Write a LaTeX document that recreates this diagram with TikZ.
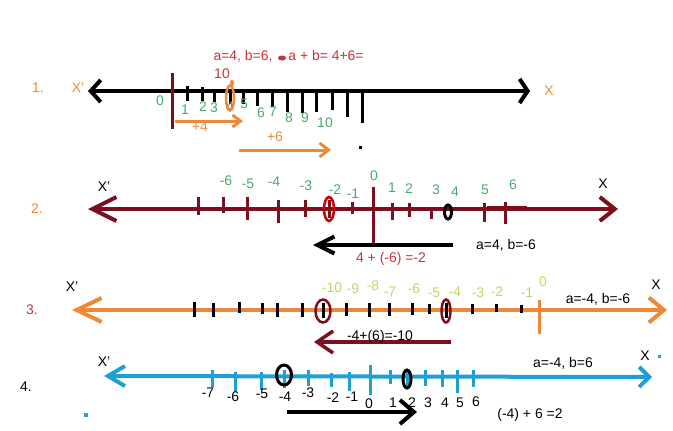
\documentclass[tikz,border=0pt]{standalone}
\usepackage{fontspec}
\setmainfont{Liberation Sans}
\usetikzlibrary{arrows.meta,shapes.geometric}
\definecolor{orng}{RGB}{237,137,55}
\definecolor{grn}{RGB}{72,170,105}
\definecolor{dred}{RGB}{125,14,30}
\definecolor{rtxt}{RGB}{200,50,60}
\definecolor{ygrn}{RGB}{190,215,100}
\definecolor{blu}{RGB}{30,160,215}
\tikzset{
  lbl/.style={font=\fontsize{14}{16}\selectfont, inner sep=0pt},
  axis/.style={line width=4bp},
  tick/.style={line width=3bp},
  ring/.style={draw, ellipse, inner sep=0pt, line width=2.5bp},
}
\begin{document}
\begin{tikzpicture}[x=1bp,y=-1bp]
\useasboundingbox (0,0) rectangle (673,430);
% ---------- line 1 ----------
\coordinate (a1l) at (88,91); \coordinate (a1r) at (530,91);
\draw[axis, black, {Straight Barb[length=10bp,width=22bp]}-{Straight Barb[length=8bp,width=24bp]}] (a1l) -- (a1r);
\draw[line width=3bp, dred] (172,73) -- (172,129);
\foreach \x/\ya/\yb in {187/86/101,202/87/101,214/91/102,230/91/104,243/91/104,257/91/106,272/91/107,287/91/112,302/91/113,316/91/112,332/91/110,347/91/117,362/91/123}
  \draw[tick, black] (\x,\ya) -- (\x,\yb);
\foreach \t/\x/\y [count=\k] in {0/160/101,1/185/110,2/203/107,3/214/108,4/230/107,5/244/104,6/261/113,7/273/112,8/289/118,9/305/118,10/325/123}
  \node[lbl, grn] (o\k) at (\x,\y) {\t};
\node[ring, orng, minimum width=8bp, minimum height=25bp] (e1) at (230,98) {};
\node[fill=orng, ellipse, inner sep=0pt, minimum width=4bp, minimum height=7bp] (d1) at (232,83) {};
\node[lbl, rtxt] (ten) at (222,74) {10};
\node[lbl, rtxt] (t1a) at (243,56) {a=4, b=6,};
\node[fill=rtxt, ellipse, inner sep=0pt, minimum width=8bp, minimum height=5bp] (d2) at (282,58) {};
\node[lbl, rtxt] (t1b) at (326,56) {a + b= 4+6=};
\node[lbl, orng] (n1) at (38,88) {1.};
\node[lbl, orng] (x1l) at (78,88) {X'};
\node[lbl, orng] (x1r) at (549,91) {X};
\coordinate (p4s) at (175,121); \coordinate (p4e) at (243,121);
\draw[line width=3bp, orng, -{Straight Barb[length=8bp,width=12bp]}] (p4s) -- (p4e);
\node[lbl, orng] (p4) at (200,127) {+4};
\coordinate (p6s) at (239,150); \coordinate (p6e) at (331,150);
\draw[line width=3bp, orng, -{Straight Barb[length=9bp,width=14bp]}] (p6s) -- (p6e);
\node[lbl, orng] (p6) at (275,137) {+6};
\fill[black] (359,146) rectangle (362,149);
% ---------- line 2 ----------
\coordinate (a2l) at (88,209); \coordinate (a2r) at (618,209);
\draw[axis, dred, {Straight Barb[length=24bp,width=24bp]}-{Straight Barb[length=15bp,width=24bp]}] (a2l) -- (a2r);
\draw[line width=3bp, dred] (487,207) -- (527,207);
\foreach \x/\ya/\yb in {198/197/215,223/197/213,247/197/220,278/200/223,305/200/217,329/200/218,352/202/214,392/203/220,409/203/217,431/207/219,484/203/222,505/202/224}
  \draw[tick, dred] (\x,\ya) -- (\x,\yb);
\draw[tick, dred] (373,187) -- (373,245);
\node[ring, red!80!black, minimum width=10bp, minimum height=24bp] (e2) at (329,209) {};
\node[ring, black, line width=3bp, minimum width=7bp, minimum height=14bp] (e3) at (448,212) {};
\foreach \t/\x/\y [count=\k] in {-6/226/181,-5/248/184,-4/274/182,-3/306/186,-2/335/190,-1/353/194,0/374/176,1/392/188,2/409/189,3/436/190,4/455/192,5/485/190,6/513/185}
  \node[lbl, grn] (s\k) at (\x,\y) {\t};
\node[lbl, orng] (n2) at (37,209) {2.};
\node[lbl] (x2l) at (104,187) {X'};
\node[lbl] (x2r) at (603,184) {X};
\coordinate (b2s) at (453,245); \coordinate (b2e) at (313,245);
\draw[line width=4bp, black, -{Straight Barb[length=17bp,width=17bp]}] (b2s) -- (b2e);
\node[lbl] (ab2) at (506,245) {a=4, b=-6};
\node[lbl, rtxt] (r2) at (391,259) {4 + (-6) =-2};
% ---------- line 3 ----------
\coordinate (a3l) at (72,310); \coordinate (a3r) at (667,310);
\draw[axis, orng, {Straight Barb[length=25bp,width=24bp]}-{Straight Barb[length=15bp,width=25bp]}] (a3l) -- (a3r);
\foreach \x/\ya/\yb in {194/302/317,213/303/317,239/302/313,262/303/314,277/303/317,302/303/317,323/303/318,346/303/316,369/303/317,389/303/316,412/303/315,429/304/314,446/303/318,472/304/314,496/304/312,521/305/313}
  \draw[tick, black] (\x,\ya) -- (\x,\yb);
\draw[tick, orng] (539,300) -- (539,334);
\node[ring, dred, minimum width=15bp, minimum height=23bp] (e4) at (323,311) {};
\node[ring, dred, minimum width=9bp, minimum height=23bp] (e5) at (446,311) {};
\foreach \t/\x/\y [count=\k] in {-10/332/288,-9/353/289,-8/373/286,-7/390/292,-6/414/289,-5/434/293,-4/455/292,-3/478/293,-2/497/292,-1/527/293,0/543/282}
  \node[lbl, ygrn] (u\k) at (\x,\y) {\t};
\node[lbl, rtxt] (n3) at (32,310) {3.};
\node[lbl] (x3l) at (72,287) {X'};
\node[lbl] (x3r) at (656,285) {X};
\node[lbl] (ab3) at (598,299) {a=-4, b=-6};
\coordinate (c3s) at (451,342); \coordinate (c3e) at (314,342);
\draw[line width=3.5bp, dred, -{Straight Barb[length=16bp,width=22bp]}] (c3s) -- (c3e);
\node[lbl] (r3) at (380,337) {-4+(6)=-10};
% ---------- line 4 ----------
\coordinate (a4l) at (104,376); \coordinate (a4r) at (652,377);
\draw[axis, blu, {Straight Barb[length=17bp,width=20bp]}-{Straight Barb[length=10bp,width=20bp]}] (a4l) -- (a4r);
\foreach \x/\ya/\yb in {212/370/387,235/372/392,261/372/390,284/370/388,308/370/386,331/373/387,349/372/391,370/365/395,390/370/384,407/370/388,425/370/386,442/370/387,457/370/393,473/370/387}
  \draw[tick, blu] (\x,\ya) -- (\x,\yb);
\node[ring, black, line width=3bp, minimum width=15bp, minimum height=20bp] (e6) at (284,375) {};
\node[ring, black, line width=3bp, minimum width=8bp, minimum height=18bp] (e7) at (407,379) {};
\foreach \t/\x/\y [count=\k] in {-7/208/393,-6/233/397,-5/262/394,-4/285/397,-3/308/393,-2/333/398,-1/352/397,0/369/404,1/393/403,2/412/403,3/428/403,4/445/403,5/460/403,6/476/402}
  \node[lbl] (v\k) at (\x,\y) {\t};
\node[lbl] (n4) at (26,387) {4.};
\node[lbl] (x4l) at (104,362) {X'};
\node[lbl] (x4r) at (645,356) {X};
\fill[blu] (658,355) rectangle (661,358);
\fill[blu] (84,413) rectangle (88,417);
\node[lbl] (ab4) at (563,363) {a=-4, b=6};
\node[lbl] (r4) at (530,415) {(-4) + 6 =2};
\coordinate (d4s) at (287,412); \coordinate (d4e) at (417,412);
\draw[line width=4bp, black, -{Straight Barb[length=14bp,width=24bp]}] (d4s) -- (d4e);
\end{tikzpicture}
\end{document}
